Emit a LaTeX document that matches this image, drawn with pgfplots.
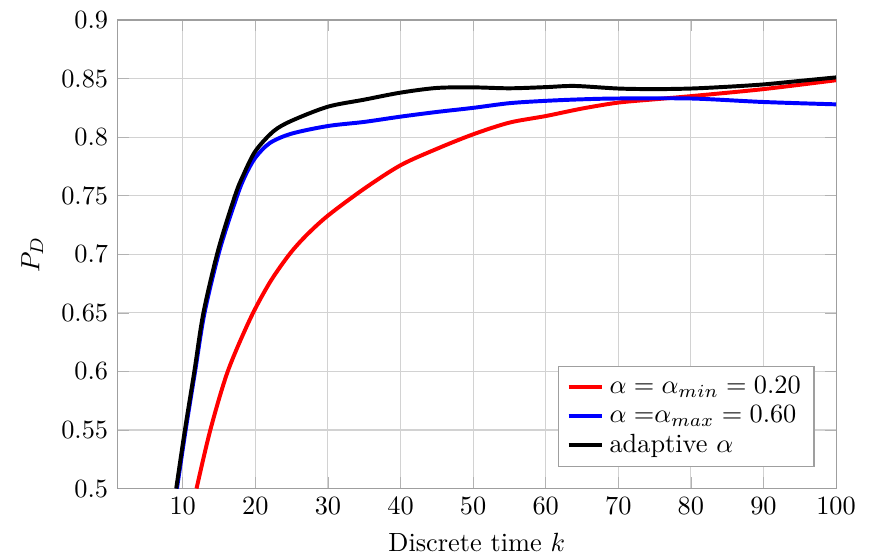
\documentclass[border=0pt]{standalone}
\usepackage{pgfplots}
\pgfplotsset{compat=1.18}
\begin{document}
\begin{tikzpicture}
\begin{axis}[
  name=ax,
  scale only axis,
  width=273pt, height=178pt,
  xmin=1, xmax=100, ymin=0.5, ymax=0.9,
  xtick={10,20,...,100},
  ytick={0.5,0.55,0.6,0.65,0.7,0.75,0.8,0.85,0.9},
  grid=major,
  major grid style={gray!35, line width=0.4pt},
  axis line style={gray!75},
  tick style={gray!60},
  xlabel={Discrete time $k$},
  ylabel={$P_D$},
  legend style={at={(0.97,0.045)}, anchor=south east, draw=gray!75, font=\normalsize, row sep=-1pt},
  legend cell align=left,
  legend image code/.code={\draw[#1] (0cm,0cm) -- (0.45cm,0cm);},
]
\addplot[red, line width=1.5pt, smooth] coordinates {
(11.9,0.5) (13.8,0.55) (16.2,0.6) (19.3,0.645) (22,0.676) (24.7,0.7) (27,0.716) (30,0.733) (35,0.756) (40,0.776) (45,0.790) (50,0.8024) (55,0.8124) (60,0.818) (65,0.8244) (70,0.8295) (75,0.8323) (80,0.835) (90,0.841) (100,0.8486)
};
\addlegendentry{$\alpha = \alpha_{min} = 0.20$}
\addplot[blue, line width=1.5pt, smooth] coordinates {
(9.2,0.5) (10.4,0.55) (11.7,0.6) (13.0,0.65) (15.1,0.704) (17.5,0.75) (18.6,0.767) (20,0.7825) (22,0.795) (25,0.803) (30,0.8095) (35,0.813) (40,0.8175) (45,0.8215) (50,0.825) (55,0.829) (60,0.831) (65,0.8323) (70,0.833) (80,0.833) (90,0.830) (100,0.828)
};
\addlegendentry{$\alpha =$\kern0pt$\alpha_{max} = 0.60$}
\addplot[black, line width=1.5pt, smooth] coordinates {
(9.1,0.5) (10.3,0.55) (11.6,0.6) (12.85,0.65) (14.9,0.704) (17.2,0.75) (18.3,0.767) (20,0.788) (22.5,0.805) (25,0.814) (30,0.826) (35,0.832) (40,0.838) (45,0.842) (50,0.8425) (55,0.8417) (60,0.8427) (64,0.8437) (70,0.8415) (75,0.841) (80,0.8415) (85,0.843) (90,0.845) (95,0.848) (100,0.851)
};
\addlegendentry{adaptive $\alpha$}
\end{axis}
\pgfresetboundingbox
\path ([shift={(-44.6pt,-25.5pt)}]ax.south west) rectangle ([shift={(12.9pt,7.6pt)}]ax.north east);
\end{tikzpicture}
\end{document}
